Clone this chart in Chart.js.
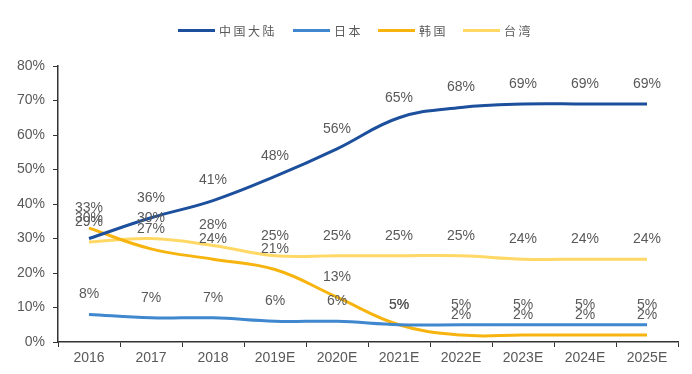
<!DOCTYPE html>
<html>
<head>
<meta charset="utf-8">
<script src="https://cdn.jsdelivr.net/npm/chart.js@4/dist/chart.umd.min.js"></script>
<style>
html,body{margin:0;padding:0;background:#fff;}
#wrap{position:relative;width:692px;height:374px;}
#c{position:absolute;left:0;top:0;}
.lg{position:absolute;top:22px;height:16px;display:flex;align-items:center;font-family:"Noto Sans CJK SC",sans-serif;font-size:12px;letter-spacing:2.5px;color:#595959;white-space:nowrap;}
.lg i{display:inline-block;width:37px;height:3px;margin-right:4px;}
</style>
</head>
<body>
<div id="wrap"><canvas id="c" width="692" height="374"></canvas><div id="legend"></div></div>
<script>
const categories = ['2016','2017','2018','2019E','2020E','2021E','2022E','2023E','2024E','2025E'];
const seriesNames = ['中国大陆','日本','韩国','台湾'];
const chinaMainland = [30,36,41,48,56,65,68,69,69,69];
const japan = [8,7,7,6,6,5,5,5,5,5];
const korea = [33,27,24,21,13,5,2,2,2,2];
const taiwan = [29,30,28,25,25,25,25,24,24,24];
const yTicks = [0,10,20,30,40,50,60,70,80];

const colors = ['#1c4f9c','#3f88cf','#f7b40e','#ffd865'];
const txt = '#595959';
const legendX = [178,293,378,463];

const lg = document.getElementById('legend');
seriesNames.forEach((n,i)=>{
  const d = document.createElement('div');
  d.className = 'lg';
  d.style.left = legendX[i] + 'px';
  d.innerHTML = '<i style="background:'+colors[i]+'"></i><span></span>';
  d.querySelector('span').textContent = n;
  lg.appendChild(d);
});

const labelPlugin = {
  id:'pointLabels',
  afterDatasetsDraw(chart){
    const ctx = chart.ctx;
    ctx.save();
    ctx.font = '14px "Liberation Sans", Arial, sans-serif';
    ctx.fillStyle = txt;
    ctx.textAlign = 'center';
    ctx.textBaseline = 'middle';
    chart.data.datasets.forEach((ds,i)=>{
      const meta = chart.getDatasetMeta(i);
      meta.data.forEach((pt,j)=>{
        ctx.fillText(ds.data[j] + '%', pt.x, pt.y - 20);
      });
    });
    ctx.restore();
  }
};

const dataSets = [chinaMainland, japan, korea, taiwan];
new Chart(document.getElementById('c'), {
  type:'line',
  data:{
    labels:categories,
    datasets: seriesNames.map((n,i)=>({
      label:n,
      data:dataSets[i],
      borderColor:colors[i],
      backgroundColor:colors[i],
      borderWidth:3,
      pointRadius:0,
      tension:0.4,
      fill:false
    }))
  },
  options:{
    responsive:false,
    animation:false,
    layout:{padding:{left:0,right:14,top:66,bottom:0}},
    plugins:{
      legend:{display:false},
      tooltip:{enabled:false}
    },
    scales:{
      x:{
        offset:true,
        afterFit(axis){ axis.height = 32; },
        grid:{display:true, drawOnChartArea:false, offset:true, tickLength:5, color:'#333'},
        border:{color:'#333', width:1.5},
        ticks:{color:txt, font:{family:'"Liberation Sans", Arial, sans-serif', size:14}, maxRotation:0, padding:3}
      },
      y:{
        min:0, max:80,
        afterFit(axis){ axis.width = 58; },
        afterBuildTicks(axis){ axis.ticks = yTicks.map(v=>({value:v})); },
        grid:{display:true, drawOnChartArea:false, tickLength:5, color:'#333'},
        border:{color:'#333', width:1.5},
        ticks:{color:txt, font:{family:'"Liberation Sans", Arial, sans-serif', size:14}, padding:8, callback:v=>v+'%'}
      }
    }
  },
  plugins:[labelPlugin]
});
</script>
</body>
</html>
